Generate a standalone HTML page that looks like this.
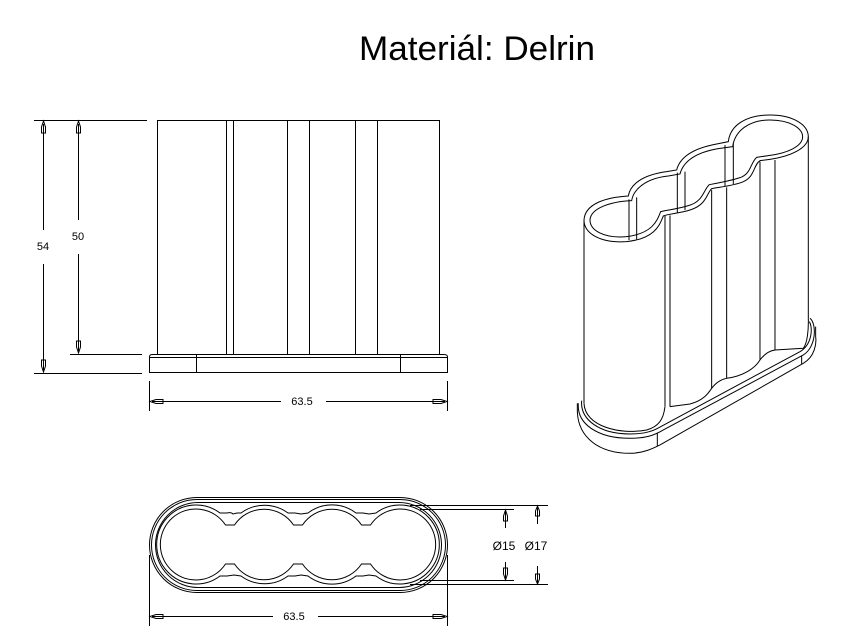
<!DOCTYPE html>
<html><head><meta charset="utf-8"><style>
html,body{margin:0;padding:0;background:#fff;}
svg{display:block;}
text{font-family:"Liberation Sans",sans-serif;fill:#000;}
</style></head><body>
<svg width="862" height="636" viewBox="0 0 862 636" xmlns="http://www.w3.org/2000/svg">
<g fill="none" stroke="#000" stroke-width="1">
<text x="477" y="60" font-size="34" text-anchor="middle" stroke="none" textLength="236" lengthAdjust="spacingAndGlyphs">Materiál: Delrin</text>

<!-- FRONT VIEW -->
<rect x="157.5" y="120.5" width="282" height="234"/>
<line x1="226.5" y1="120" x2="226.5" y2="354"/>
<line x1="233.5" y1="120" x2="233.5" y2="354"/>
<line x1="287.5" y1="120" x2="287.5" y2="354"/>
<line x1="309.5" y1="120" x2="309.5" y2="354"/>
<line x1="355.5" y1="120" x2="355.5" y2="354"/>
<line x1="377.5" y1="120" x2="377.5" y2="354"/>
<path d="M149.5,372.5 L149.5,357 Q149.5,354.5 152,354.5 L444,354.5 Q447.5,354.5 447.5,357 L447.5,372.5 Z"/>
<line x1="150" y1="357.5" x2="447" y2="357.5"/>
<line x1="196.5" y1="355" x2="196.5" y2="373"/>
<line x1="400.5" y1="355" x2="400.5" y2="373"/>
<!-- dims -->
<line x1="34" y1="120.5" x2="147" y2="120.5"/>
<line x1="34" y1="373.5" x2="142" y2="373.5"/>
<line x1="70" y1="354.5" x2="142" y2="354.5"/>
<line x1="43.5" y1="124" x2="43.5" y2="230"/>
<line x1="43.5" y1="264" x2="43.5" y2="370"/>
<line x1="78.5" y1="124" x2="78.5" y2="220"/>
<line x1="78.5" y1="254" x2="78.5" y2="351"/>
<path d="M43.5,121 L41.5,127 L41.5,133 L45.5,133 L45.5,127 Z"/>
<path d="M43.5,372 L41.5,366 L41.5,360 L45.5,360 L45.5,366 Z"/>
<path d="M78.5,121 L76.5,127 L76.5,133 L80.5,133 L80.5,127 Z"/>
<path d="M78.5,353 L76.5,347 L76.5,341 L80.5,341 L80.5,347 Z"/>
<text x="43" y="250" font-size="11" text-anchor="middle" stroke="none">54</text>
<text x="78" y="240" font-size="11" text-anchor="middle" stroke="none">50</text>
<line x1="149.5" y1="381" x2="149.5" y2="411"/>
<line x1="447.5" y1="381" x2="447.5" y2="411"/>
<line x1="152" y1="401.5" x2="281" y2="401.5"/>
<line x1="326" y1="401.5" x2="445" y2="401.5"/>
<path d="M150,401.5 L156,399.5 L163,399.5 L163,403.5 L156,403.5 Z"/>
<path d="M447,401.5 L441,399.5 L433,399.5 L433,403.5 L441,403.5 Z"/>
<text x="302" y="405" font-size="11" text-anchor="middle" stroke="none">63.5</text>

<!-- TOP VIEW -->
<rect x="149.5" y="497.5" width="298" height="95" rx="47.5"/>
<rect x="151.5" y="499.5" width="294" height="91" rx="45.5"/>
<rect x="155.5" y="502.5" width="286" height="85" rx="42.5"/>
<!-- O17 contour -->
<path d="M220,513 L227,513 Q231,512 233,514 L237,513 L241,513 A39.5,39.5 0 0 1 288,513 L295,513 L301,514 L308,513 A39.5,39.5 0 0 1 356,513 L363,513 L369,514 L376,513 A39.5,39.5 0 1 1 376,576 L369,575 L363,576 L356,576 A39.5,39.5 0 0 1 308,576 L301,575 L295,576 L288,576 A39.5,39.5 0 0 1 241,576 L234,575 L227,576 L220,576 A39.5,39.5 0 1 1 220,513 Z"/>
<!-- O15 contour -->
<path d="M225.5,525 L234.5,525 A35.5,35.5 0 0 1 293.5,525 L302.5,525 A35.5,35.5 0 0 1 361.5,525 L370.5,525 A35.5,35.5 0 1 1 370.5,564 L361.5,564 A35.5,35.5 0 0 1 302.5,564 L293.5,564 A35.5,35.5 0 0 1 234.5,564 L225.5,564 A35.5,35.5 0 1 1 225.5,525 Z"/>
<!-- dims -->
<line x1="410" y1="505.5" x2="548" y2="505.5"/>
<line x1="410" y1="584.5" x2="548" y2="584.5"/>
<line x1="420" y1="509.5" x2="514" y2="509.5"/>
<line x1="420" y1="580.5" x2="514" y2="580.5"/>
<line x1="505.5" y1="511" x2="505.5" y2="528"/>
<line x1="505.5" y1="562" x2="505.5" y2="579"/>
<line x1="537.5" y1="507" x2="537.5" y2="524"/>
<line x1="537.5" y1="566" x2="537.5" y2="583"/>
<path d="M505.5,510 L503.5,516 L503.5,521 L507.5,521 L507.5,516 Z"/>
<path d="M505.5,580 L503.5,574 L503.5,568 L507.5,568 L507.5,574 Z"/>
<path d="M537.5,506 L535.5,511 L535.5,516 L539.5,516 L539.5,511 Z"/>
<path d="M537.5,584 L535.5,579 L535.5,574 L539.5,574 L539.5,579 Z"/>
<text x="504" y="550" font-size="12" text-anchor="middle" stroke="none">Ø15</text>
<text x="536" y="550" font-size="12" text-anchor="middle" stroke="none">Ø17</text>
<line x1="149.5" y1="555" x2="149.5" y2="626"/>
<line x1="447.5" y1="555" x2="447.5" y2="626"/>
<line x1="152" y1="616.5" x2="273" y2="616.5"/>
<line x1="318" y1="616.5" x2="445" y2="616.5"/>
<path d="M150,616.5 L156,614.5 L163,614.5 L163,618.5 L156,618.5 Z"/>
<path d="M447,616.5 L441,614.5 L433,614.5 L433,618.5 L441,618.5 Z"/>
<text x="294" y="620" font-size="11" text-anchor="middle" stroke="none">63.5</text>
</g>

<!-- ISO VIEW -->
<g transform="translate(570,110) scale(0.3333)" fill="none" stroke="#000" stroke-width="3">
<path d="M42,330 C45,280 110,262 175,258 C180,225 215,195 290,185 L320,180 C330,140 370,115 440,102 L475,95 C480,45 530,15 600,15 C670,15 715,45 715,80 C715,115 660,140 600,148 L570,152 C550,165 555,200 520,215 C490,228 440,232 425,236 C410,250 410,285 360,300 C330,310 290,312 280,318 C270,340 260,385 170,395 C90,400 42,370 42,330 Z"/>
<path d="M60,330 C62,295 120,275 185,272 C190,240 225,205 295,198 L330,192 C340,155 375,128 445,116 L488,110 C495,60 540,30 600,30 C660,30 698,55 698,80 C698,110 650,130 595,137 L560,142 C540,160 545,190 510,203 C480,213 440,220 418,224 C400,240 400,275 355,287 C325,297 290,300 272,305 C262,330 250,370 170,380 C100,386 60,360 60,330 Z"/>
<line x1="177" y1="268" x2="177" y2="390"/>
<line x1="200" y1="262" x2="200" y2="388"/>
<line x1="322" y1="188" x2="322" y2="308"/>
<line x1="345" y1="185" x2="345" y2="300"/>
<line x1="465" y1="105" x2="465" y2="228"/>
<line x1="490" y1="100" x2="490" y2="222"/>
<line x1="42" y1="330" x2="42" y2="880"/>
<line x1="715" y1="80" x2="715" y2="625"/>
<line x1="285" y1="318" x2="285" y2="890"/>
<line x1="300" y1="316" x2="300" y2="890"/>
<line x1="425" y1="240" x2="425" y2="835"/>
<line x1="470" y1="232" x2="470" y2="805"/>
<line x1="570" y1="155" x2="570" y2="750"/>
<line x1="615" y1="150" x2="615" y2="720"/>
<path d="M42,880 C45,950 150,975 230,960 C265,950 280,930 285,890"/>
<path d="M300,890 L360,882 C400,872 415,850 425,835 C440,815 455,808 470,805 C520,798 555,775 570,750 C585,730 600,722 615,720 L700,715 C712,700 716,660 715,625"/>
<path d="M25,880 C20,940 80,985 180,985 C230,985 255,975 280,960 L700,735 C740,710 740,640 720,625"/>
<path d="M35,872 C30,930 90,972 180,972 C225,972 250,963 272,950 L690,725 C725,705 730,655 718,635"/>
<path d="M22,880 L22,905 C25,985 90,1030 180,1030 C220,1030 250,1015 270,1005 L700,760 C735,740 740,700 737,680 L737,650"/>
<line x1="262" y1="968" x2="262" y2="1008"/>
<line x1="695" y1="738" x2="695" y2="762"/>
</g>
</svg>
</body></html>
